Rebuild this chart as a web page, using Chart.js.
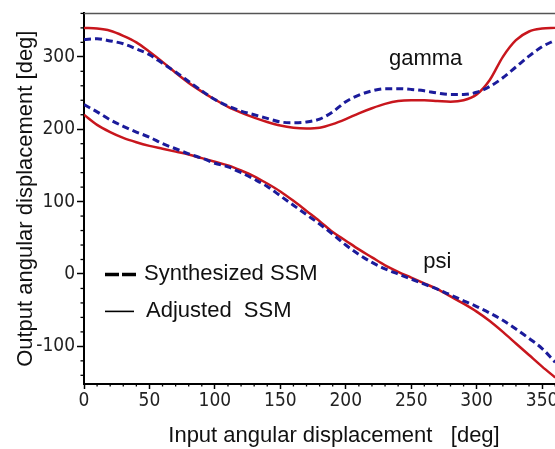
<!DOCTYPE html>
<html><head><meta charset="utf-8">
<script src="https://cdn.jsdelivr.net/npm/chart.js@4.4.0/dist/chart.umd.min.js"></script>
<style>
html,body{margin:0;padding:0;background:#fff;overflow:hidden}
#wrap{width:555px;height:449px;overflow:hidden;position:relative;background:#fff}
canvas{display:block}
</style></head><body>
<div id="wrap"><canvas id="c" width="584" height="449"></canvas></div>
<script>
// ---- data ----
const inputDeg = [0,10,20,30,40,50,60,70,80,90,100,110,120,130,140,150,160,170,180,190,200,210,220,230,240,250,260,270,280,290,300,310,320,330,340,350,360];
const gammaSynthesized = [324,325,322,318,311,303,291,279,266,253,241,232,225,220,215,210,209,210,214,224,238,247,253,256,256,255,253,250,248,248,251,259,271,286,301,314,323];
const gammaAdjusted    = [340,339,336,329,320,307,293,278,264,252,241,231,223,216,210,205,202,201,202,207,214,222,229,235,239,240,240,239,238,240,248,268,300,323,335,339,340];
const psiSynthesized   = [234,224,213,204,196,189,180,173,166,160,153,148,140,131,121,108,95,82,69,55,40,27,16,7,0,-7,-14,-21,-29,-37,-45,-54,-64,-76,-89,-103,-122];
const psiAdjusted      = [220,206,196,188,182,177,173,169,165,160,155,150,143,135,125,114,101,87,73,58,46,34,23,12,3,-5,-13,-21,-31,-41,-52,-65,-80,-96,-112,-128,-143];
const xTickValues = [0,50,100,150,200,250,300,350];
const yTickValues = [-100,0,100,200,300];
const legendLabels = ['Synthesized SSM','Adjusted  SSM'];
const curveLabels = [{text:'gamma', x:261, y:297},{text:'psi', x:270, y:17}];
const xTitle = 'Input angular displacement   [deg]';
const yTitle = 'Output angular displacement [deg]';

const RED = '#c8161d', BLUE = '#1b1b9b';
const TEXT_FONT = "'Liberation Sans', Arial, Helvetica, sans-serif";
const TICK_FONT = "'Liberation Sans Narrow', 'DejaVu Sans Condensed', 'Liberation Sans', sans-serif";

const pts = ys => inputDeg.map((x,i)=>({x, y: ys[i]}));

const decorations = {
  id:'decorations',
  afterDraw(chart){
    const {ctx, chartArea:a, scales:{x, y}} = chart;
    ctx.save();
    // top border
    ctx.strokeStyle = '#555'; ctx.lineWidth = 1.5;
    ctx.beginPath(); ctx.moveTo(a.left, a.top); ctx.lineTo(a.right, a.top); ctx.stroke();
    // minor ticks
    ctx.strokeStyle = '#000'; ctx.lineWidth = 1.3;
    for (let v = 10; v <= x.max; v += 10) {
      if (v % 50 === 0) continue;
      const px = x.getPixelForValue(v);
      ctx.beginPath(); ctx.moveTo(px, a.bottom); ctx.lineTo(px, a.bottom + 2.5); ctx.stroke();
    }
    for (let v = -140; v <= y.max; v += 20) {
      if (v % 100 === 0) continue;
      const py = y.getPixelForValue(v);
      ctx.beginPath(); ctx.moveTo(a.left, py); ctx.lineTo(a.left - 3.5, py); ctx.stroke();
    }
    // curve labels
    ctx.fillStyle = '#111';
    ctx.font = '22px ' + TEXT_FONT;
    ctx.textAlign = 'center'; ctx.textBaseline = 'middle';
    curveLabels.forEach(l => ctx.fillText(l.text, x.getPixelForValue(l.x), y.getPixelForValue(l.y)));
    // legend
    const lx = a.left + 21, ly1 = a.top + 261, ly2 = a.top + 298;
    ctx.strokeStyle = '#000';
    ctx.lineWidth = 3.5; ctx.setLineDash([14,3]);
    ctx.beginPath(); ctx.moveTo(lx, ly1); ctx.lineTo(lx + 31, ly1); ctx.stroke();
    ctx.setLineDash([]); ctx.lineWidth = 1.6;
    ctx.beginPath(); ctx.moveTo(lx, ly2); ctx.lineTo(lx + 29, ly2); ctx.stroke();
    ctx.textAlign = 'left';
    ctx.fillText(legendLabels[0], lx + 39, ly1);
    ctx.fillText(legendLabels[1], lx + 41, ly2);
    ctx.restore();
  }
};

new Chart(document.getElementById('c'), {
  type:'line',
  data:{ datasets:[
    {label:'gamma synthesized', data:pts(gammaSynthesized), borderColor:BLUE, borderWidth:3, borderDash:[7,4]},
    {label:'psi synthesized', data:pts(psiSynthesized), borderColor:BLUE, borderWidth:3, borderDash:[7,4]},
    {label:'gamma adjusted', data:pts(gammaAdjusted), borderColor:RED, borderWidth:2.5},
    {label:'psi adjusted', data:pts(psiAdjusted), borderColor:RED, borderWidth:2.5}
  ]},
  options:{
    responsive:false, animation:false, devicePixelRatio:1,
    parsing:false, normalized:true,
    elements:{ point:{radius:0}, line:{cubicInterpolationMode:'monotone', fill:false} },
    layout:{ padding:{ left:13, top:9, right:0, bottom:0 } },
    plugins:{ legend:{display:false}, tooltip:{enabled:false} },
    scales:{
      x:{ type:'linear', min:0, max:382,
        afterBuildTicks: s => { s.ticks = xTickValues.map(v=>({value:v})); },
        afterFit: s => { s.height = 65; },
        grid:{ drawOnChartArea:false, tickLength:5, tickColor:'#000', tickWidth:1.5 },
        border:{ display:true, color:'#000', width:2 },
        ticks:{ color:'#222', padding:1, font:{ family:TICK_FONT, size:19 }, maxRotation:0 },
        title:{ display:true, text:xTitle, color:'#111', padding:0, font:{ family:TEXT_FONT, size:22 } }
      },
      y:{ type:'linear', min:-152, max:360,
        afterBuildTicks: s => { s.ticks = yTickValues.map(v=>({value:v})); },
        afterFit: s => { s.width = 71; },
        grid:{ drawOnChartArea:false, tickLength:7, tickColor:'#000', tickWidth:1.5 },
        border:{ display:true, color:'#000', width:2 },
        ticks:{ color:'#222', padding:2, font:{ family:TICK_FONT, size:19 } },
        title:{ display:true, text:yTitle, color:'#111', padding:0, font:{ family:TEXT_FONT, size:22 } }
      }
    }
  },
  plugins:[decorations]
});
</script>
</body></html>
